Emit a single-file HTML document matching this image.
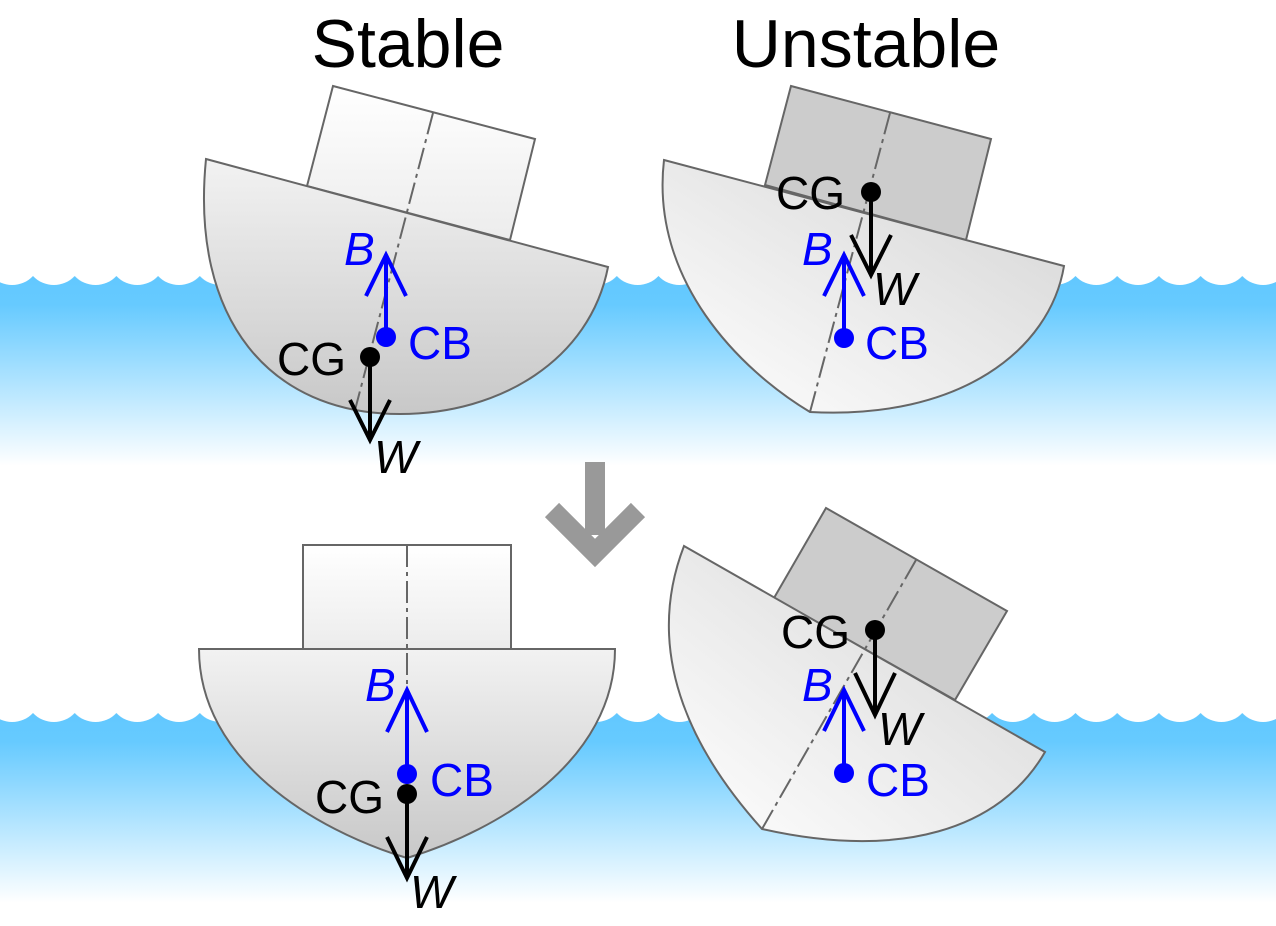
<!DOCTYPE html>
<html><head><meta charset="utf-8"><style>
html,body{margin:0;padding:0;background:#fff;}
svg{display:block;}
text{font-family:"Liberation Sans",Arial,sans-serif;}
</style></head><body>
<svg width="1276" height="926" viewBox="0 0 1276 926" xmlns="http://www.w3.org/2000/svg">
<defs>
<linearGradient id="water" x1="0" y1="0" x2="0" y2="1">
<stop offset="0" stop-color="#62c8ff"/><stop offset="0.15" stop-color="#66caff"/><stop offset="1" stop-color="#ffffff"/>
</linearGradient>
<linearGradient id="hull" x1="0" y1="0" x2="0" y2="1">
<stop offset="0" stop-color="#f2f2f2"/><stop offset="1" stop-color="#c8c8c8"/>
</linearGradient>
<linearGradient id="cabin" x1="0" y1="0" x2="0" y2="1">
<stop offset="0" stop-color="#ffffff"/><stop offset="1" stop-color="#ececec"/>
</linearGradient>
<linearGradient id="hullU" x1="1" y1="0" x2="0" y2="1">
<stop offset="0" stop-color="#d4d4d4"/><stop offset="1" stop-color="#ffffff"/>
</linearGradient>
<pattern id="wave1" x="-8.7" y="276" width="41.7" height="20" patternUnits="userSpaceOnUse">
<path d="M0,0 A28.6,28.6 0 0 0 41.7,0 Z" fill="#fff"/>
</pattern>
<pattern id="wave2" x="-8.7" y="713" width="41.7" height="20" patternUnits="userSpaceOnUse">
<path d="M0,0 A28.6,28.6 0 0 0 41.7,0 Z" fill="#fff"/>
</pattern>
</defs>
<rect x="0" y="276" width="1276" height="190" fill="url(#water)"/>
<rect x="0" y="276" width="1276" height="10" fill="url(#wave1)"/>
<rect x="0" y="713" width="1276" height="190" fill="url(#water)"/>
<rect x="0" y="713" width="1276" height="10" fill="url(#wave2)"/>

<text x="408" y="67" font-size="68" text-anchor="middle">Stable</text>
<text x="866" y="67" font-size="68" text-anchor="middle">Unstable</text>

<!-- top stable -->
<polygon points="333,86 535,139 510,240 307,186" fill="url(#cabin)" stroke="#666" stroke-width="2"/>
<path d="M206,159 L608,267 C590,360 500,414 400,414 C270,414 190,320 206,159 Z" fill="url(#hull)" stroke="#666" stroke-width="2"/>
<line x1="433" y1="113" x2="355" y2="410" stroke="#666" stroke-width="2" stroke-dasharray="22,5,4,5"/>
<g stroke="#0000ff" stroke-width="4" fill="none"><line x1="386" y1="337" x2="386" y2="255"/><polyline points="366,296 386,255 406,296"/></g>
<circle cx="386" cy="337" r="10" fill="#0000ff"/>
<text x="344" y="265" font-size="46" font-style="italic" fill="#0000ff">B</text>
<text x="408" y="359" font-size="46" fill="#0000ff">CB</text>
<g stroke="#000" stroke-width="4" fill="none"><line x1="370" y1="357" x2="370" y2="440"/><polyline points="350,400 370,440 390,400"/></g>
<circle cx="370" cy="357" r="10" fill="#000"/>
<text x="277" y="375" font-size="46">CG</text>
<text x="374" y="473" font-size="46" font-style="italic">W</text>

<!-- top unstable -->
<polygon points="791,86 991,139 966,240 765,185" fill="#cccccc" stroke="#666" stroke-width="2"/>
<path d="M664,160 L1064,266 C1050,350 960,420 810,412 C740,370 650,280 664,160 Z" fill="url(#hullU)" stroke="#666" stroke-width="2"/>
<line x1="890" y1="113" x2="810" y2="412" stroke="#666" stroke-width="2" stroke-dasharray="22,5,4,5"/>
<g stroke="#000" stroke-width="4" fill="none"><line x1="871" y1="192" x2="871" y2="275"/><polyline points="851,235 871,275 891,235"/></g>
<circle cx="871" cy="192" r="10" fill="#000"/>
<text x="776" y="209" font-size="46">CG</text>
<text x="873" y="305" font-size="46" font-style="italic">W</text>
<g stroke="#0000ff" stroke-width="4" fill="none"><line x1="844" y1="338" x2="844" y2="255"/><polyline points="824,296 844,255 864,296"/></g>
<circle cx="844" cy="338" r="10" fill="#0000ff"/>
<text x="802" y="265" font-size="46" font-style="italic" fill="#0000ff">B</text>
<text x="865" y="359" font-size="46" fill="#0000ff">CB</text>

<!-- arrow -->
<line x1="595" y1="462" x2="595" y2="535" stroke="#999" stroke-width="20"/>
<polyline points="552,510 595,553 638,510" fill="none" stroke="#999" stroke-width="20"/>

<!-- bottom stable -->
<rect x="303" y="545" width="208" height="104" fill="url(#cabin)" stroke="#666" stroke-width="2"/>
<path d="M199,649 L615,649 C615,760 500,830 407,858 C314,830 199,760 199,649 Z" fill="url(#hull)" stroke="#666" stroke-width="2"/>
<line x1="407" y1="545" x2="407" y2="690" stroke="#666" stroke-width="2" stroke-dasharray="22,5,4,5"/>
<g stroke="#0000ff" stroke-width="4" fill="none"><line x1="407" y1="774" x2="407" y2="690"/><polyline points="387,732 407,690 427,732"/></g>
<circle cx="407" cy="774" r="10" fill="#0000ff"/>
<text x="365" y="701" font-size="46" font-style="italic" fill="#0000ff">B</text>
<text x="430" y="796" font-size="46" fill="#0000ff">CB</text>
<g stroke="#000" stroke-width="4" fill="none"><line x1="407" y1="794" x2="407" y2="878"/><polyline points="387,837 407,878 427,837"/></g>
<circle cx="407" cy="794" r="10" fill="#000"/>
<text x="315" y="813" font-size="46">CG</text>
<text x="410" y="908" font-size="46" font-style="italic">W</text>

<!-- bottom unstable -->
<polygon points="826,508 1007,611 955,700 774,598" fill="#cccccc" stroke="#666" stroke-width="2"/>
<path d="M684,546 L1045,752 C1000,830 900,860 762,829 C700,760 640,660 684,546 Z" fill="url(#hullU)" stroke="#666" stroke-width="2"/>
<line x1="916" y1="560" x2="762" y2="829" stroke="#666" stroke-width="2" stroke-dasharray="22,5,4,5"/>
<g stroke="#000" stroke-width="4" fill="none"><line x1="875" y1="630" x2="875" y2="715"/><polyline points="855,673 875,715 895,673"/></g>
<circle cx="875" cy="630" r="10" fill="#000"/>
<text x="781" y="648" font-size="46">CG</text>
<text x="878" y="745" font-size="46" font-style="italic">W</text>
<g stroke="#0000ff" stroke-width="4" fill="none"><line x1="844" y1="773" x2="844" y2="690"/><polyline points="824,731 844,690 864,731"/></g>
<circle cx="844" cy="773" r="10" fill="#0000ff"/>
<text x="802" y="701" font-size="46" font-style="italic" fill="#0000ff">B</text>
<text x="866" y="796" font-size="46" fill="#0000ff">CB</text>
</svg>
</body></html>
